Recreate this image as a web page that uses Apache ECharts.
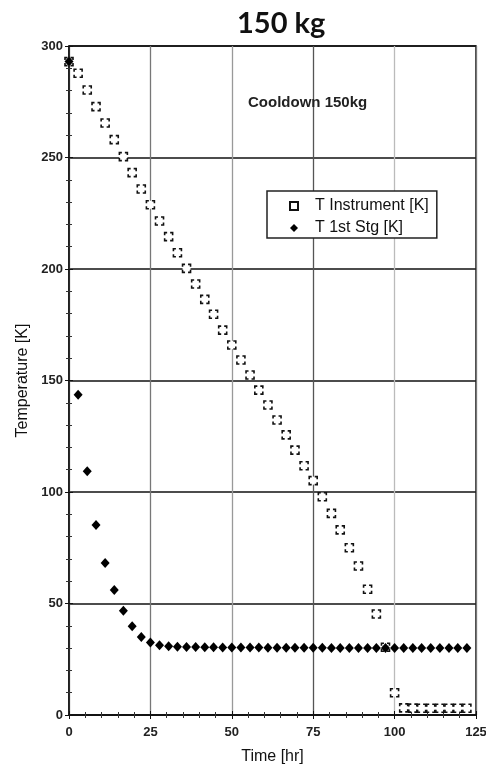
<!DOCTYPE html>
<html>
<head>
<meta charset="utf-8">
<script src="https://cdn.jsdelivr.net/npm/echarts@6/dist/echarts.min.js"></script>
<style>
  html, body { margin: 0; padding: 0; background: #fff; }
  #chart { width: 486px; height: 767px; }
</style>
</head>
<body>
<div id="chart"></div>
<script>
// sample times [hr], one point every ~2.78 hr
const times = [0, 2.8, 5.6, 8.3, 11.1, 13.9, 16.7, 19.4, 22.2, 25.0, 27.8, 30.6, 33.3, 36.1, 38.9,
  41.7, 44.4, 47.2, 50.0, 52.8, 55.6, 58.3, 61.1, 63.9, 66.7, 69.4, 72.2, 75.0, 77.8, 80.6,
  83.3, 86.1, 88.9, 91.7, 94.4, 97.2, 100.0, 102.8, 105.6, 108.3, 111.1, 113.9, 116.7, 119.4, 122.2]
const tInstrument = [293, 287.8, 280.3, 272.8, 265.5, 258, 250.4, 243.2, 235.9, 228.8, 221.5, 214.5,
  207.3, 200.3, 193.3, 186.4, 179.7, 172.6, 165.9, 159.2, 152.5, 145.7, 139, 132.3, 125.6, 118.8,
  111.8, 105.1, 97.9, 90.4, 83, 75, 66.8, 56.4, 45.3, 30.4, 10, 3.2, 3.1, 3, 3, 3, 3, 3, 3]
const tFirstStage = [293, 143.6, 109.3, 85.2, 68.2, 56, 46.7, 39.8, 35, 32.5, 31.3, 30.8, 30.6, 30.5,
  30.5, 30.4, 30.4, 30.3, 30.3, 30.3, 30.3, 30.3, 30.2, 30.2, 30.2, 30.2, 30.2, 30.2, 30.2, 30.1,
  30.1, 30.1, 30.1, 30.1, 30.1, 30.1, 30.0, 30.0, 30.0, 30.0, 30.0, 30.0, 30.0, 30.0, 30.0]

const font = 'Liberation Sans, Arial, sans-serif'
const pairs = (ys) => times.map((t, i) => [t, ys[i]])

const chart = echarts.init(document.getElementById('chart'))
chart.setOption({
  animation: false,
  backgroundColor: '#fff',
  title: [
    {
      text: '150 kg',
      left: 232,
      top: 4,
      textStyle: { fontFamily: 'Lato, sans-serif', fontWeight: 'bold', fontSize: 29, color: '#111' }
    },
    {
      text: 'Cooldown 150kg',
      left: 248,
      top: 95,
      padding: 0,
      textStyle: { fontFamily: font, fontWeight: 'bold', fontSize: 15, color: '#222' }
    }
  ],
  legend: {
    orient: 'vertical',
    left: 267,
    top: 191,
    padding: [7, 8, 2, 22],
    itemWidth: 8,
    itemHeight: 8,
    itemGap: 6,
    borderColor: '#222',
    borderWidth: 1.5,
    borderRadius: 0,
    backgroundColor: '#fff',
    formatter: (name) => '{t|' + name + '}',
    textStyle: {
      fontFamily: font, fontSize: 16, color: '#111',
      rich: { t: { fontFamily: font, fontSize: 16, color: '#111', padding: [0, 0, 0, 12] } }
    },
    data: ['T Instrument [K]', 'T 1st Stg [K]']
  },
  grid: {
    left: 69, right: 10, top: 46, bottom: 52,
    outerBoundsMode: 'none',
    show: true, borderColor: '#111', borderWidth: 1.5
  },
  xAxis: [
    {
      type: 'value', min: 0, max: 125, interval: 25,
      name: 'Time [hr]', nameLocation: 'middle', nameGap: 34,
      nameTextStyle: { fontFamily: font, fontSize: 16, color: '#111' },
      axisLine: { show: true, lineStyle: { color: '#111', width: 1.5 } },
      axisTick: { inside: true, length: 4, lineStyle: { color: '#111' } },
      minorTick: { show: true, splitNumber: 5, length: 3, lineStyle: { color: '#333' } },
      axisLabel: { margin: 11, fontFamily: font, fontWeight: 'bold', fontSize: 13, color: '#222' },
      splitLine: {
        show: true,
        lineStyle: { color: ['#777', '#777', '#999', '#555', '#bbb', '#777'], width: 1.3 }
      }
    },
    {
      type: 'value', min: 0, max: 125, interval: 25, position: 'top',
      axisLine: { show: false },
      axisTick: { inside: true, length: 4, lineStyle: { color: '#111' } },
      minorTick: { show: true, splitNumber: 5, length: 3, lineStyle: { color: '#333' } },
      axisLabel: { show: false },
      splitLine: { show: false }
    }
  ],
  yAxis: [
    {
      type: 'value', min: 0, max: 300, interval: 50,
      name: 'Temperature [K]', nameLocation: 'middle', nameGap: 38,
      nameTextStyle: { fontFamily: font, fontSize: 16, color: '#111' },
      axisLine: { show: true, lineStyle: { color: '#111', width: 1.5 } },
      axisTick: { inside: true, length: 4, lineStyle: { color: '#111' } },
      minorTick: { show: true, splitNumber: 5, length: 3, lineStyle: { color: '#333' } },
      axisLabel: { margin: 6, fontFamily: font, fontWeight: 'bold', fontSize: 13, color: '#222' },
      splitLine: { show: true, lineStyle: { color: '#111', width: 1.6 } }
    },
    {
      type: 'value', min: 0, max: 300, interval: 50, position: 'right',
      axisLine: { show: false },
      axisTick: { show: true, inside: true, length: 4, lineStyle: { color: '#111' } },
      minorTick: { show: true, splitNumber: 5, length: 3, lineStyle: { color: '#333' } },
      axisLabel: { show: false },
      splitLine: { show: false }
    }
  ],
  series: [
    {
      name: 'T Instrument [K]',
      type: 'scatter',
      symbol: 'rect',
      symbolSize: 8,
      itemStyle: {
        color: '#fff',
        opacity: 1,
        borderColor: '#111',
        borderWidth: 1.6,
        borderType: [5, 3],
        borderDashOffset: 2.5
      },
      z: 3,
      data: pairs(tInstrument)
    },
    {
      name: 'T 1st Stg [K]',
      type: 'scatter',
      symbol: 'diamond',
      symbolSize: [9, 10],
      itemStyle: { color: '#000', opacity: 1 },
      z: 4,
      data: pairs(tFirstStage)
    }
  ]
})
</script>
</body>
</html>
